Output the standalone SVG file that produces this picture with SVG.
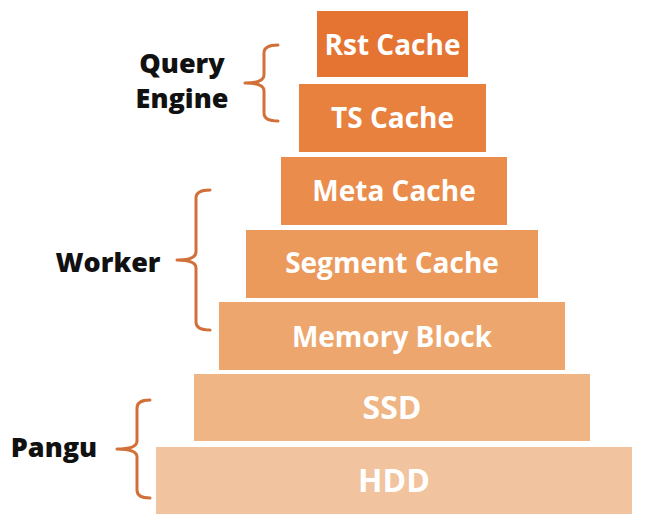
<svg xmlns="http://www.w3.org/2000/svg" width="645" height="526" viewBox="0 0 645 526">
<style>
.lvl text{font-family:"Open Sans","Noto Sans",sans-serif;font-weight:700;font-size:28px;fill:#fff;text-anchor:middle}
.lvl text.big{font-size:32px}
.lbl{font-family:"Open Sans","Noto Sans",sans-serif;font-weight:800;font-size:27px;fill:#111;text-anchor:middle}
.brace{fill:none;stroke:#D2703A;stroke-width:3;stroke-linecap:round;stroke-linejoin:round}
</style>
<rect width="645" height="526" fill="#fff"/>
<g id="rst" class="lvl"><rect x="317" y="11" width="151" height="66" fill="#E57433"/><text x="392.5" y="55">Rst Cache</text></g>
<g id="ts" class="lvl"><rect x="299" y="84" width="187" height="68" fill="#E8803E"/><text x="392.5" y="128">TS Cache</text></g>
<g id="meta" class="lvl"><rect x="281" y="157" width="226" height="68" fill="#EA8C4B"/><text x="394" y="201">Meta Cache</text></g>
<g id="segment" class="lvl"><rect x="246" y="230" width="292" height="68" fill="#EC9A5C"/><text x="392" y="273">Segment Cache</text></g>
<g id="memory" class="lvl"><rect x="219" y="302" width="346" height="68" fill="#EDA76E"/><text x="392" y="347">Memory Block</text></g>
<g id="ssd" class="lvl"><rect x="194" y="374" width="396" height="67" fill="#EFB584"/><text class="big" x="392" y="419">SSD</text></g>
<g id="hdd" class="lvl"><rect x="156" y="447" width="476" height="67" fill="#F1C49F"/><text class="big" x="394" y="492">HDD</text></g>
<g id="query-engine"><text class="lbl" x="182" y="73">Query</text><text class="lbl" x="182" y="108">Engine</text></g>
<g id="worker"><text class="lbl" x="108" y="272">Worker</text></g>
<g id="pangu"><text class="lbl" x="54" y="457">Pangu</text></g>
<g id="connectors">
<path class="brace" d="M278,45 Q264,45 264,53 L264,75 Q264,83 245,83 Q264,83 264,91 L264,113 Q264,121 278,121"/>
<path class="brace" d="M210,190 Q196,190 196,198 L196,252 Q196,260 177,260 Q196,260 196,268 L196,322 Q196,330 210,330"/>
<path class="brace" d="M150,400 Q137,400 137,408 L137,441 Q137,449 117,449 Q137,449 137,457 L137,490 Q137,498 150,498"/>
</g>
</svg>
